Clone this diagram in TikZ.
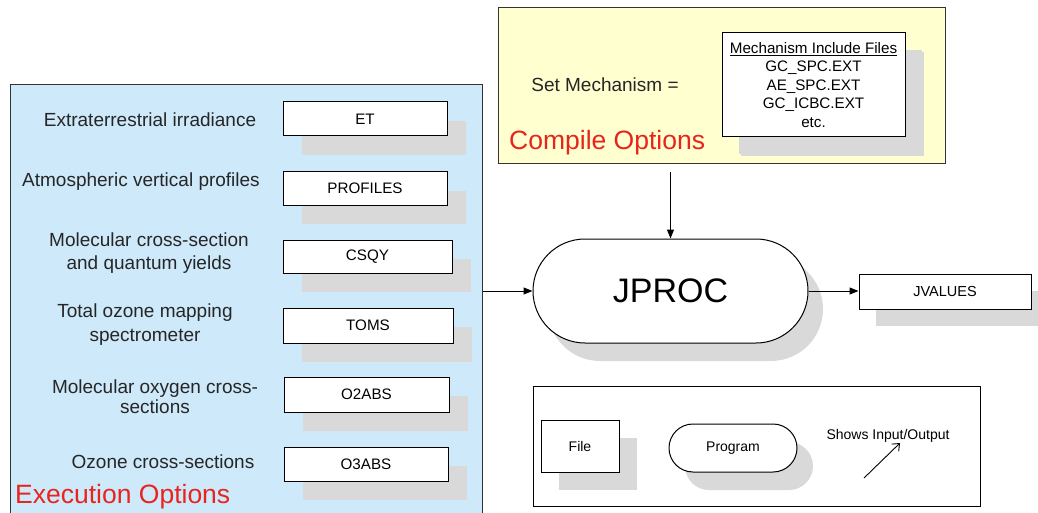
\documentclass[tikz,border=0pt]{standalone}
\usepackage{fontspec}
\setmainfont{Liberation Sans}
\usetikzlibrary{arrows.meta,shadows,calc}

\definecolor{execblue}{HTML}{CDE9FA}
\definecolor{compyellow}{HTML}{FFFFD0}
\definecolor{shadegray}{HTML}{D9D9D9}
\definecolor{optred}{HTML}{E8241F}

\tikzset{
  panel/.style={draw=black!80, line width=1.1pt, inner sep=0pt},
  lbl/.style={inner sep=0pt, align=center, text=black!85, font=\fontsize{19}{23}\selectfont},
  redtitle/.style={inner sep=0pt, anchor=west, text=optred, font=\fontsize{26.5}{30}\selectfont},
  solidshadow/.style 2 args={drop shadow={shadow xshift=#1pt, shadow yshift=-#2pt, fill=shadegray, opacity=1}},
  filebox/.style={draw=black, line width=1pt, fill=white, inner sep=0pt,
    font=\fontsize{15.2}{18}\selectfont, solidshadow={19}{19}},
  smallbox/.style={draw=black, line width=1pt, fill=white, inner sep=0pt,
    font=\fontsize{14}{17}\selectfont},
  arr/.style={-{Triangle[length=9pt,width=7pt]}, line width=1pt},
}

\begin{document}
\begin{tikzpicture}[x=1pt,y=-1pt]
\useasboundingbox (0,0) rectangle (1038,513);
\clip (0,0) rectangle (1038,513);

% Execution options panel
\node[panel, fill=execblue, minimum width=472pt, minimum height=460pt, anchor=north west] (exec) at (10,84) {};

\node[lbl] (l-et) at (150,120) {Extraterrestrial irradiance};
\node[lbl] (l-prof) at (141,182) {Atmospheric vertical profiles};
\node[lbl] (l-csqy) at (149,253.5) {Molecular cross-section\\and quantum yields};
\node[lbl, font=\fontsize{19}{24}\selectfont] (l-toms) at (145,325) {Total ozone mapping\\spectrometer};
\node[lbl, font=\fontsize{19}{20}\selectfont] (l-o2) at (155,397) {Molecular oxygen cross-\\sections};
\node[lbl] (l-o3) at (163,462) {Ozone cross-sections};

\node[filebox, minimum width=164pt, minimum height=34pt] (et) at (365,119) {ET};
\node[filebox, minimum width=164pt, minimum height=33pt] (prof) at (365,188.5) {PROFILES};
\node[filebox, minimum width=169pt, minimum height=33pt] (csqy) at (367.5,256.5) {CSQY};
\node[filebox, minimum width=170pt, minimum height=35pt] (toms) at (368,325.5) {TOMS};
\node[filebox, minimum width=165pt, minimum height=35pt] (o2abs) at (366.5,394.5) {O2ABS};
\node[filebox, minimum width=164pt, minimum height=34pt] (o3abs) at (366,464) {O3ABS};

\node[redtitle] (t-exec) at (15,497) {Execution Options};

% Compile options panel
\node[panel, fill=compyellow, minimum width=447pt, minimum height=156pt, anchor=north west] (compile) at (498,7) {};
\node[lbl] (setmech) at (605,85) {Set Mechanism =};
\node[filebox, solidshadow={17}{17}, minimum width=183pt, minimum height=104pt,
      font=\fontsize{15.2}{18.5}\selectfont, align=center] (mech) at (813.5,85)
  {\underline{Mechanism Include Files}\\GC\_SPC.EXT\\AE\_SPC.EXT\\GC\_ICBC.EXT\\etc.};
\node[redtitle] (t-comp) at (509,143) {Compile Options};

% Program and output
\node[draw=black, line width=1pt, fill=white, inner sep=0pt, rounded corners=52pt,
      minimum width=275pt, minimum height=104pt, solidshadow={15}{18},
      font=\fontsize{34}{40}\selectfont] (jproc) at (670.5,291) {JPROC};
\node[smallbox, solidshadow={17}{17}, font=\fontsize{14.5}{17}\selectfont,
      minimum width=172pt, minimum height=35pt] (jvalues) at (945,291.5) {JVALUES};

\draw[arr] (exec.east |- jproc.west) -- (jproc.west);
\draw[arr] ($(compile.south -| jproc.north)+(0,8)$) -- (jproc.north);
\draw[arr] (jproc.east) -- (jproc.east -| jvalues.west);

% Legend
\node[draw=black, line width=1pt, fill=white, inner sep=0pt,
      minimum width=447pt, minimum height=120pt] (legend) at (756.5,446) {};
\node[smallbox, solidshadow={18}{18}, minimum width=78pt, minimum height=52pt] (lg-file) at (580,446) {File};
\node[smallbox, solidshadow={16}{18}, rounded corners=24pt,
      minimum width=128pt, minimum height=48pt] (lg-prog) at (733,448) {Program};
\node[inner sep=0pt, font=\fontsize{14}{17}\selectfont] (lg-io) at (888,436) {Shows Input/Output};
\coordinate (lg-a) at (864,478);
\coordinate (lg-b) at (900,443);
\draw[line width=0.9pt, -{Straight Barb[length=6pt,width=10pt]}] (lg-a) -- (lg-b);
\end{tikzpicture}
\end{document}
